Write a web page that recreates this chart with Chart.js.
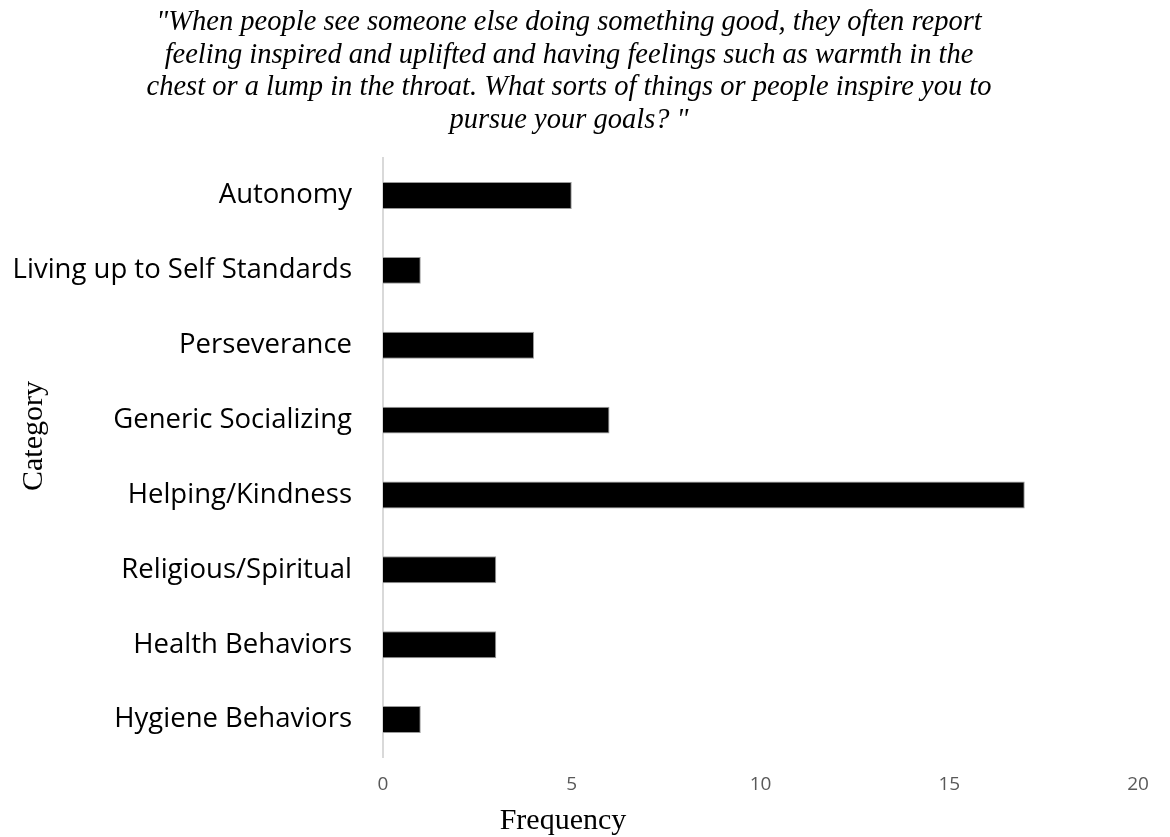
<!DOCTYPE html>
<html>
<head>
<meta charset="utf-8">
<script src="https://cdn.jsdelivr.net/npm/chart.js@4/dist/chart.umd.min.js"></script>
<style>
  html, body { margin: 0; padding: 0; background: #fff; }
  #wrap { width: 1170px; height: 837px; }
</style>
</head>
<body>
<div id="wrap"><canvas id="myChart_inspire"></canvas></div>
<script>
const categories = [
  'Autonomy',
  'Living up to Self Standards',
  'Perseverance',
  'Generic Socializing',
  'Helping/Kindness',
  'Religious/Spiritual',
  'Health Behaviors',
  'Hygiene Behaviors'
];
const frequency = [5, 1, 4, 6, 17, 3, 3, 1];
const xTicks = [0, 5, 10, 15, 20];
const titleLines = [
  '"When people see someone else doing something good, they often report',
  'feeling inspired and uplifted and having feelings such as warmth in the',
  'chest or a lump in the throat. What sorts of things or people inspire you to',
  'pursue your goals? "'
];
const xTitle = 'Frequency';
const yTitle = 'Category';

// axis titles drawn by hand, they sit off-centre in the original
const axisTitles = {
  id: 'axisTitles',
  afterDraw(chart) {
    const ctx = chart.ctx;
    ctx.save();
    ctx.fillStyle = '#000';
    ctx.font = '30px "Liberation Serif"';
    ctx.textAlign = 'center';
    ctx.textBaseline = 'alphabetic';
    ctx.fillText(xTitle, 563, 829);
    ctx.translate(42, 436);
    ctx.rotate(-Math.PI / 2);
    ctx.fillText(yTitle, 0, 0);
    ctx.restore();
  }
};

new Chart(document.getElementById('myChart_inspire'), {
  type: 'bar',
  data: {
    labels: categories,
    datasets: [{
      data: frequency,
      backgroundColor: '#000',
      borderColor: '#9a9a9a',
      borderWidth: 1,
      barPercentage: 0.36,
      categoryPercentage: 1
    }]
  },
  options: {
    indexAxis: 'y',
    responsive: true,
    maintainAspectRatio: false,
    animation: false,
    layout: { padding: { left: 0, right: 32, top: 0, bottom: 0 } },
    plugins: {
      legend: { display: false },
      tooltip: { enabled: false },
      title: {
        display: true,
        text: titleLines,
        color: '#000',
        font: { family: 'Liberation Serif', style: 'italic', size: 28.5, weight: 'normal', lineHeight: 1.15 },
        padding: { top: 6, bottom: 21 }
      }
    },
    scales: {
      x: {
        min: 0,
        max: 20,
        afterBuildTicks: axis => { axis.ticks = xTicks.map(v => ({ value: v })); },
        afterFit: axis => { axis.height = 80; },
        grid: { display: false, drawTicks: false },
        border: { display: false },
        ticks: {
          color: '#595959',
          padding: 16,
          font: { family: 'Open Sans', size: 19 }
        }
      },
      y: {
        afterFit: axis => { axis.width = 383; },
        grid: { display: false, drawTicks: false },
        border: { display: true, color: '#d9d9d9', width: 2 },
        ticks: {
          color: '#000',
          padding: 31,
          font: { family: 'Open Sans', size: 27.5 }
        }
      }
    }
  },
  plugins: [axisTitles]
});
</script>
</body>
</html>
